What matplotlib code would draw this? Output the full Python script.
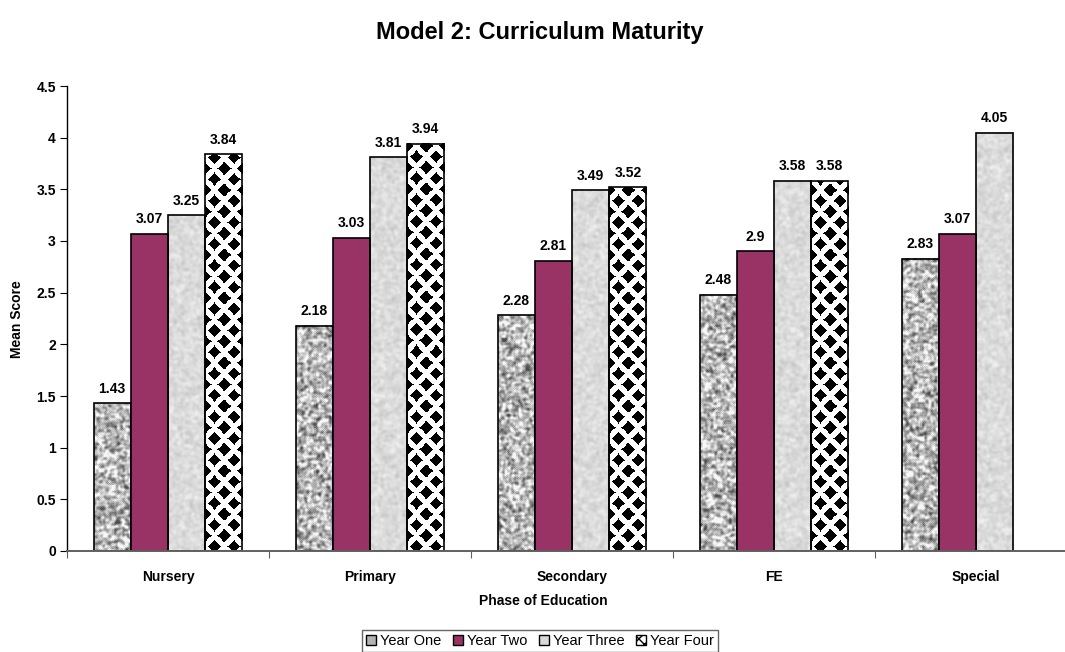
import numpy as np
import matplotlib
matplotlib.use("Agg")
import matplotlib.pyplot as plt
from matplotlib.patches import Patch

plt.rcParams['font.family'] = ['Liberation Sans', 'DejaVu Sans']

# chart data
phases = ["Nursery", "Primary", "Secondary", "FE", "Special"]
series = ["Year One", "Year Two", "Year Three", "Year Four"]
year_one = [1.43, 2.18, 2.28, 2.48, 2.83]
year_two = [3.07, 3.03, 2.81, 2.90, 3.07]
year_three = [3.25, 3.81, 3.49, 3.58, 4.05]
year_four = [3.84, 3.94, 3.52, 3.58, None]
values = [year_one, year_two, year_three, year_four]

W, H = 1065, 652
fig = plt.figure(figsize=(W / 100, H / 100), dpi=100)
ax_left, ax_right, ax_bottom, ax_top = 67, 1077, 551, 86
ax = fig.add_axes([ax_left / W, (H - ax_bottom) / H,
                   (ax_right - ax_left) / W, (ax_bottom - ax_top) / H])
ymax = 4.5
px_per_unit = (ax_bottom - ax_top) / ymax
cat_px = (ax_right - ax_left) / len(phases)
bar_w = 37.2 / cat_px

rng = np.random.default_rng(7)


def smooth(a, k):
    # cheap box blur for the fill textures
    out = a.copy()
    for _ in range(k):
        out = (out + np.roll(out, 1, 0) + np.roll(out, -1, 0)
               + np.roll(out, 1, 1) + np.roll(out, -1, 1)) / 5.0
    return out


def granite(h, w):
    n = smooth(rng.random((h, w)), 3)
    n = (n - n.mean()) / (n.std() + 1e-9)
    img = np.clip(0.72 + 0.15 * n, 0.3, 0.97)
    return np.dstack([img] * 3)


def marble(h, w):
    n = smooth(rng.random((h, w)), 4)
    n = (n - n.mean()) / (n.std() + 1e-9)
    img = np.clip(0.86 + 0.025 * n, 0.75, 0.95)
    return np.dstack([img] * 3)


def diamonds(h, w):
    # staggered black diamonds on white, sizes in pixels
    yy, xx = np.mgrid[0:h, 0:w].astype(float)
    yy = h - yy
    px, py, rad = 18.6, 21.6, 6.8

    def lattice(cx, cy):
        dx = (xx - cx + px / 2) % px - px / 2
        dy = (yy - cy + py / 2) % py - py / 2
        return (np.abs(dx) / rad) ** 0.85 + (np.abs(dy) / rad) ** 0.85 < 1

    black = lattice(9, 5) | lattice(9 + px / 2, 5 + py / 2)
    img = np.where(black, 0.0, 1.0)
    return np.dstack([img] * 3)


fills = [granite, None, marble, diamonds]
plum = "#993366"

for j, vals in enumerate(values):
    for i, v in enumerate(vals):
        if v is None:
            continue
        x0 = i + 0.5 + (j - 2) * bar_w
        if fills[j] is None:
            ax.bar(x0, v, width=bar_w, align='edge', color=plum,
                   edgecolor='black', linewidth=1.2, zorder=3)
        else:
            hpx = max(int(round(v * px_per_unit)), 2)
            wpx = int(round(bar_w * cat_px))
            ax.imshow(fills[j](hpx, wpx), extent=(x0, x0 + bar_w, 0, v),
                      aspect='auto', interpolation='nearest', zorder=2)
            ax.bar(x0, v, width=bar_w, align='edge', facecolor='none',
                   edgecolor='black', linewidth=1.2, zorder=3)
        ax.annotate(f"{v:g}", (x0 + bar_w / 2, v), xytext=(0, 5.5),
                    textcoords='offset points', ha='center', va='bottom',
                    fontsize=10, fontweight='bold')

ax.set_xlim(0, len(phases))
ax.set_ylim(0, ymax)
ticks = np.arange(0, 4.51, 0.5)
ax.set_yticks(ticks)
ax.set_yticklabels([f"{t:g}" for t in ticks], fontsize=10, fontweight='bold')
ax.set_xticks(np.arange(0, len(phases) + 1))
ax.set_xticklabels([])
ax.set_xticks(np.arange(len(phases)) + 0.5, minor=True)
ax.set_xticklabels(phases, minor=True, fontsize=10, fontweight='bold')
ax.tick_params(axis='x', which='minor', length=0, pad=14)
ax.tick_params(axis='x', which='major', length=5, direction='out',
               color='#606060')
ax.tick_params(axis='y', length=5, direction='out', pad=3)
for side in ['top', 'right']:
    ax.spines[side].set_visible(False)
ax.spines['left'].set_linewidth(1.0)
ax.spines['bottom'].set_linewidth(1.4)
ax.spines['bottom'].set_color('#606060')
ax.spines['bottom'].set_zorder(4)

fig.text(540 / W, 1 - 32 / H, "Model 2: Curriculum Maturity",
         ha='center', va='center', fontsize=17, fontweight='bold')
fig.text(543 / W, 1 - 601 / H, "Phase of Education",
         ha='center', va='center', fontsize=10, fontweight='bold')
fig.text(17 / W, 1 - 319 / H, "Mean Score", rotation=90,
         ha='center', va='center', fontsize=10, fontweight='bold')

handles = [Patch(facecolor='#b4b4b4', edgecolor='black'),
           Patch(facecolor=plum, edgecolor='black'),
           Patch(facecolor='#d9d9d9', edgecolor='black'),
           Patch(facecolor='white', edgecolor='black', hatch='xxx')]
leg = fig.legend(handles, series, loc='center', ncol=4,
                 bbox_to_anchor=(540 / W, 1 - 641 / H), fontsize=10.5,
                 frameon=True, fancybox=False, handlelength=0.7,
                 handleheight=0.7, handletextpad=0.25, columnspacing=0.8,
                 borderpad=0.3, borderaxespad=0)
leg.get_frame().set_edgecolor('#404040')
leg.get_frame().set_linewidth(1.0)

fig.savefig("out.png", dpi=100)
